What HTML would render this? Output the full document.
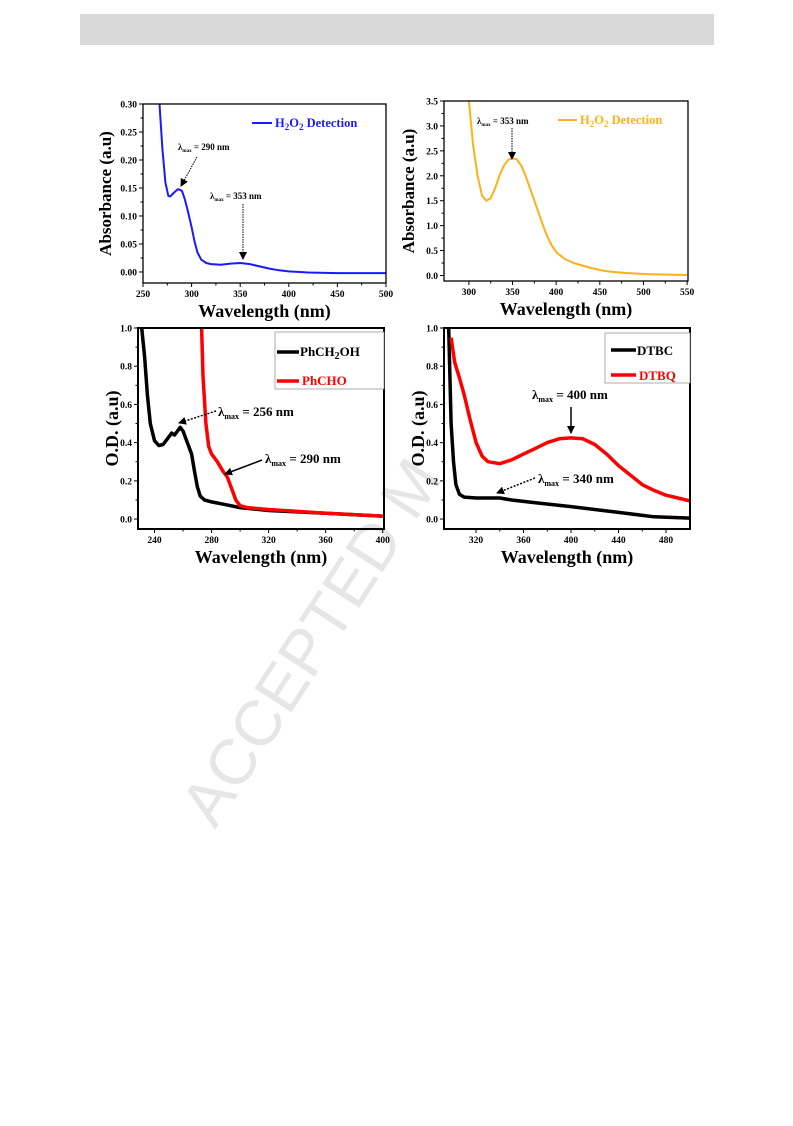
<!DOCTYPE html>
<html><head><meta charset="utf-8"><style>
body{margin:0;background:#fff;width:793px;height:1121px;overflow:hidden;font-family:"Liberation Serif",serif}
svg text{font-family:"Liberation Serif",serif;font-weight:bold}
</style></head><body>
<svg id="s" width="793" height="1121" xmlns="http://www.w3.org/2000/svg">
<rect x="80" y="14" width="634" height="31" fill="#d9d9d9"/>
<text x="0" y="0" transform="translate(215,830) rotate(-57)" font-size="64" fill="#e6e6e6" style="font-family:'Liberation Sans',sans-serif;font-weight:normal">ACCEPTED M</text>
<defs>
<marker id="ah" markerWidth="8" markerHeight="8" refX="7" refY="4" orient="auto" markerUnits="userSpaceOnUse"><path d="M0,0 L8,4 L0,8 Z" fill="#000"/></marker>
</defs>
</svg>
<script>
// ---- data ----
const c1X=[267,270,273,276,278,282,286,290,293,296,300,303,306,310,315,320,330,340,350,360,370,380,390,400,420,450,500];
const c1Y=[0.30,0.22,0.16,0.136,0.135,0.142,0.148,0.145,0.13,0.11,0.08,0.055,0.035,0.022,0.016,0.014,0.013,0.015,0.016,0.014,0.010,0.006,0.003,0.001,-0.001,-0.002,-0.002];
const c2X=[300,305,310,315,320,325,330,335,340,345,350,355,360,365,370,375,380,385,390,395,400,410,420,430,440,450,460,480,500,520,550];
const c2Y=[3.5,2.6,2.0,1.6,1.5,1.55,1.75,2.0,2.2,2.32,2.35,2.33,2.2,2.0,1.75,1.5,1.25,1.0,0.78,0.6,0.47,0.33,0.25,0.2,0.15,0.11,0.08,0.05,0.03,0.02,0.01];
const c3BlackX=[231,233,235,237,240,243,246,249,252,254,256,258,260,262,264,266,268,270,272,275,280,290,300,320,360,400];
const c3BlackY=[1.0,0.85,0.65,0.5,0.41,0.385,0.39,0.42,0.45,0.44,0.46,0.48,0.46,0.42,0.38,0.34,0.25,0.17,0.12,0.10,0.09,0.075,0.06,0.045,0.03,0.015];
const c3RedX=[273,274,276,278,280,284,288,291,294,297,300,305,320,360,400];
const c3RedY=[1.0,0.75,0.5,0.38,0.34,0.30,0.25,0.22,0.16,0.10,0.07,0.06,0.05,0.03,0.015];
const c4BlackX=[297,298,299,301,303,306,310,320,340,350,370,400,440,470,500];
const c4BlackY=[1.0,0.75,0.5,0.3,0.18,0.13,0.115,0.11,0.11,0.10,0.085,0.065,0.035,0.012,0.005];
const c4RedX=[299,302,306,310,315,320,325,330,340,350,360,370,380,390,400,410,420,430,440,450,460,470,480,490,500];
const c4RedY=[0.95,0.82,0.74,0.65,0.52,0.40,0.33,0.30,0.29,0.31,0.34,0.37,0.40,0.42,0.425,0.42,0.39,0.34,0.28,0.23,0.18,0.15,0.125,0.11,0.095];
const c1XTicks=[250,300,350,400,450,500], c1YTicks=[0,0.05,0.10,0.15,0.20,0.25,0.30];
const c2XTicks=[300,350,400,450,500,550], c2YTicks=[0,0.5,1.0,1.5,2.0,2.5,3.0,3.5];
const c3XTicks=[240,280,320,360,400], c3YTicks=[0,0.2,0.4,0.6,0.8,1.0];
const c4XTicks=[320,360,400,440,480], c4YTicks=[0,0.2,0.4,0.6,0.8,1.0];

const NS="http://www.w3.org/2000/svg", svg=document.getElementById('s');
function mk(tag,attrs,parent){const e=document.createElementNS(NS,tag);for(const k in attrs)e.setAttribute(k,attrs[k]);(parent||svg).appendChild(e);return e;}

function chart(o){
  const g=mk('g',{});
  
  
  const sx=v=>o.l+(v-o.x0)/(o.x1-o.x0)*(o.r-o.l);
  const sy=v=>o.b-(v-o.y0)/(o.y1-o.y0)*(o.b-o.t);
  const cp=mk('clipPath',{id:o.name+'-clip'},g);
  mk('rect',{x:o.l,y:o.t,width:o.r-o.l,height:o.b-o.t},cp);
  o.series.forEach(s=>{
    const pts=s.x.map((v,i)=>sx(v).toFixed(1)+','+sy(s.y[i]).toFixed(1)).join(' ');
    const p=mk('polyline',{points:pts,fill:'none',stroke:s.color,'stroke-width':s.w,'stroke-linejoin':'round','clip-path':'url(#'+o.name+'-clip)'},g);
    
    
  });
  const fr=mk('rect',{x:o.l,y:o.t,width:o.r-o.l,height:o.b-o.t,fill:'none',stroke:'#000','stroke-width':o.fw},g);
  
  
  o.xt.forEach((v,i)=>{
    const x=sx(v);
    mk('line',{x1:x,x2:x,y1:o.b,y2:o.b+4,stroke:'#000','stroke-width':1},g);
    if(i<o.xt.length-1){const xm=sx((v+o.xt[i+1])/2);mk('line',{x1:xm,x2:xm,y1:o.b,y2:o.b+2.5,stroke:'#000','stroke-width':1},g);}
    const t=mk('text',{x:x,y:o.b+14,'font-size':9.5,'text-anchor':'middle'},g);t.textContent=o.xf(v);
    
    
  });
  o.yt.forEach((v,i)=>{
    const y=sy(v);
    mk('line',{x1:o.l-4,x2:o.l,y1:y,y2:y,stroke:'#000','stroke-width':1},g);
    if(i<o.yt.length-1){const ym=sy((v+o.yt[i+1])/2);mk('line',{x1:o.l-2.5,x2:o.l,y1:ym,y2:ym,stroke:'#000','stroke-width':1},g);}
    const t=mk('text',{x:o.l-6,y:y+3.5,'font-size':9.5,'text-anchor':'end'},g);t.textContent=o.yf(v);
    
    
  });
  const xt=mk('text',{x:(o.l+o.r)/2,y:o.b+34,'font-size':18,'text-anchor':'middle'},g);xt.textContent='Wavelength (nm)';
  
  
  const yt=mk('text',{x:0,y:0,'font-size':o.ytfs,'text-anchor':'middle',transform:'translate('+o.ytx+','+(o.t+o.b)/2+') rotate(-90)'},g);yt.textContent=o.ytitle;
  
  
  return g;
}
const f2=v=>v.toFixed(2), f1=v=>v.toFixed(1), f0=v=>String(v);
chart({name:'chart-h2o2-blue',l:143,r:386,t:104,b:283,x0:250,x1:500,y0:-0.0197,y1:0.30,xt:c1XTicks,yt:c1YTicks,xf:f0,yf:f2,ytitle:'Absorbance (a.u)',ytfs:17,ytx:111,fw:1.3,
  series:[{name:'h2o2-blue-line',x:c1X,y:c1Y,color:'#1a1aff',w:2}]});
chart({name:'chart-h2o2-orange',l:444,r:688,t:101,b:281,x0:271.5,x1:551,y0:-0.11,y1:3.5,xt:c2XTicks,yt:c2YTicks,xf:f0,yf:f1,ytitle:'Absorbance (a.u)',ytfs:17,ytx:414,fw:1.3,
  series:[{name:'h2o2-orange-line',x:c2X,y:c2Y,color:'#ffb01a',w:2}]});
chart({name:'chart-benzyl',l:138,r:384,t:328,b:529,x0:228.4,x1:400.9,y0:-0.052,y1:1.0,xt:c3XTicks,yt:c3YTicks,xf:f0,yf:f1,ytitle:'O.D. (a.u)',ytfs:18,ytx:118,fw:2,
  series:[{name:'phch2oh-line',x:c3BlackX,y:c3BlackY,color:'#000',w:3.5},{name:'phcho-line',x:c3RedX,y:c3RedY,color:'#ff0000',w:3.5}]});
chart({name:'chart-catechol',l:444,r:690,t:328,b:529,x0:293,x1:500.2,y0:-0.052,y1:1.0,xt:c4XTicks,yt:c4YTicks,xf:f0,yf:f1,ytitle:'O.D. (a.u)',ytfs:18,ytx:424,fw:2,
  series:[{name:'dtbc-line',x:c4BlackX,y:c4BlackY,color:'#000',w:3.5},{name:'dtbq-line',x:c4RedX,y:c4RedY,color:'#ff0000',w:3.5}]});
</script>
<svg width="793" height="1121" style="position:absolute;left:0;top:0" xmlns="http://www.w3.org/2000/svg">
<defs><marker id="a2" markerWidth="8" markerHeight="8" refX="7" refY="4" orient="auto" markerUnits="userSpaceOnUse"><path d="M0,0 L8,4 L0,8 Z" fill="#000"/></marker></defs>
<g style="font-family:'Liberation Serif',serif;font-weight:bold">
<g><line x1="252" y1="123" x2="272" y2="123" stroke="#1a1aff" stroke-width="2"/><text x="275" y="127" font-size="12.5" fill="#1a1aff">H<tspan font-size="9" dy="3">2</tspan><tspan dy="-3">O</tspan><tspan font-size="9" dy="3">2</tspan><tspan dy="-3"> Detection</tspan></text></g>
<g><line x1="558" y1="120" x2="577" y2="120" stroke="#ffb01a" stroke-width="2"/><text x="580" y="124" font-size="12.5" fill="#ffb01a">H<tspan font-size="9" dy="3">2</tspan><tspan dy="-3">O</tspan><tspan font-size="9" dy="3">2</tspan><tspan dy="-3"> Detection</tspan></text></g>
<g><text x="178" y="150" font-size="9">λ<tspan font-size="5" dy="2">max</tspan><tspan dy="-2"> = 290 nm</tspan></text><line x1="197" y1="157" x2="181" y2="186" stroke="#000" stroke-dasharray="1.5,1" marker-end="url(#a2)"/></g>
<g><text x="210" y="199" font-size="9">λ<tspan font-size="5" dy="2">max</tspan><tspan dy="-2"> = 353 nm</tspan></text><line x1="243" y1="204" x2="243" y2="259" stroke="#000" stroke-dasharray="1.5,1" marker-end="url(#a2)"/></g>
<g><text x="477" y="124" font-size="9">λ<tspan font-size="5" dy="2">max</tspan><tspan dy="-2"> = 353 nm</tspan></text><line x1="512" y1="128" x2="512" y2="159" stroke="#000" stroke-dasharray="1.5,1" marker-end="url(#a2)"/></g>
<g><rect x="275" y="332" width="109" height="57" fill="#fff" stroke="#999" stroke-width="0.8"/><line x1="277" y1="352" x2="299" y2="352" stroke="#000" stroke-width="3.5"/><text x="300" y="356" font-size="13">PhCH<tspan font-size="10" dy="3">2</tspan><tspan dy="-3">OH</tspan></text><line x1="277" y1="381" x2="299" y2="381" stroke="#f00" stroke-width="3.5"/><text x="302" y="385" font-size="13" fill="#f00">PhCHO</text></g>
<g><rect x="605" y="333" width="85" height="50" fill="#fff" stroke="#999" stroke-width="0.8"/><line x1="611" y1="350" x2="636" y2="350" stroke="#000" stroke-width="3.5"/><text x="637" y="355" font-size="13">DTBC</text><line x1="611" y1="375" x2="636" y2="375" stroke="#f00" stroke-width="3.5"/><text x="639" y="380" font-size="13" fill="#f00">DTBQ</text></g>
<g><text x="218" y="416" font-size="13">λ<tspan font-size="8" dy="3">max</tspan><tspan dy="-3"> = 256 nm</tspan></text><line x1="216" y1="411" x2="179" y2="423" stroke="#000" stroke-width="1.5" stroke-dasharray="2,1.5" marker-end="url(#a2)"/></g>
<g><text x="265" y="463" font-size="13">λ<tspan font-size="8" dy="3">max</tspan><tspan dy="-3"> = 290 nm</tspan></text><line x1="262" y1="460" x2="225" y2="474" stroke="#000" stroke-width="1.5" marker-end="url(#a2)"/></g>
<g><text x="532" y="399" font-size="13">λ<tspan font-size="8" dy="3">max</tspan><tspan dy="-3"> = 400 nm</tspan></text><line x1="571" y1="407" x2="571" y2="433" stroke="#000" stroke-width="1.5" marker-end="url(#a2)"/></g>
<g><text x="538" y="483" font-size="13">λ<tspan font-size="8" dy="3">max</tspan><tspan dy="-3"> = 340 nm</tspan></text><line x1="535" y1="478" x2="497" y2="493" stroke="#000" stroke-width="1.5" stroke-dasharray="2,1.5" marker-end="url(#a2)"/></g>
</g>
</svg>
</body></html>
